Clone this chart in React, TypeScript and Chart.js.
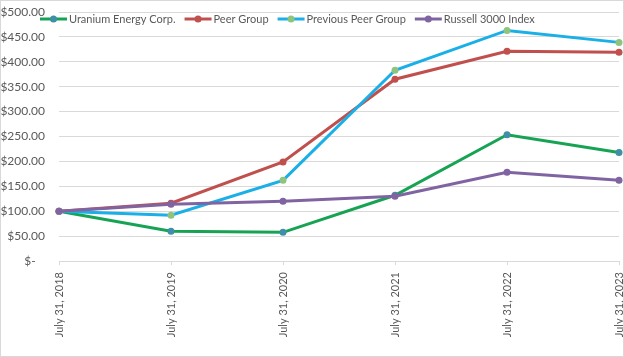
import React, { useEffect, useRef } from "react";
import { Chart, registerables } from "chart.js";

Chart.register(...registerables);

const categories = ["July 31, 2018", "July 31, 2019", "July 31, 2020", "July 31, 2021", "July 31, 2022", "July 31, 2023"];
const uecValues = [100, 59.6, 57.6, 132, 253.6, 218];
const peerValues = [100, 116, 199, 365, 421, 419];
const prevPeerValues = [100, 92, 162, 383, 463, 439];
const russellValues = [100, 114, 120, 130, 178, 162];
const seriesNames = ["Uranium Energy Corp.", "Peer Group", "Previous Peer Group", "Russell 3000 Index"];

const FONT = "Lato, 'Liberation Sans', sans-serif";
const TEXT = "#595959";
const GRID = "#D9D9D9";

const legendPlugin = {
  id: "customLegend",
  afterDraw(chart: any) {
    const ctx = chart.ctx as CanvasRenderingContext2D;
    ctx.save();
    ctx.font = `11px ${FONT}`;
    ctx.textBaseline = "middle";
    let x = 40;
    const y = 19;
    chart.data.datasets.forEach((ds: any) => {
      ctx.strokeStyle = ds.borderColor;
      ctx.lineWidth = 3;
      ctx.beginPath();
      ctx.moveTo(x, y);
      ctx.lineTo(x + 27, y);
      ctx.stroke();
      ctx.fillStyle = ds.pointBackgroundColor;
      ctx.beginPath();
      ctx.arc(x + 13.5, y, 3.5, 0, Math.PI * 2);
      ctx.fill();
      ctx.fillStyle = TEXT;
      ctx.textAlign = "left";
      ctx.fillText(ds.label, x + 29, y);
      x += 29 + ctx.measureText(ds.label).width + 9;
    });
    ctx.strokeStyle = GRID;
    ctx.lineWidth = 1;
    ctx.strokeRect(0.5, 0.5, chart.width - 1, chart.height - 1);
    ctx.restore();
  },
};

export default function App() {
  const ref = useRef<HTMLCanvasElement>(null);
  useEffect(() => {
    if (!ref.current) return;
    const mk = (label: string, data: number[], line: string, point: string, order: number) => ({
      label,
      data,
      borderColor: line,
      backgroundColor: line,
      pointBackgroundColor: point,
      pointBorderColor: point,
      pointRadius: 3.5,
      pointBorderWidth: 0,
      borderWidth: 3,
      tension: 0,
      order,
    });
    const chart = new Chart(ref.current, {
      type: "line",
      data: {
        labels: categories,
        datasets: [
          mk(seriesNames[0], uecValues, "#17A354", "#3F8FA6", 4),
          mk(seriesNames[1], peerValues, "#C0504D", "#C0504D", 3),
          mk(seriesNames[2], prevPeerValues, "#1AAFE6", "#8FC47E", 2),
          mk(seriesNames[3], russellValues, "#8064A2", "#8064A2", 1),
        ],
      },
      options: {
        animation: false,
        responsive: false,
        maintainAspectRatio: false,
        layout: { padding: { top: 12, right: 5, bottom: 0, left: 0 } },
        plugins: { legend: { display: false }, tooltip: { enabled: false } },
        scales: {
          x: {
            type: "category",
            offset: false,
            afterFit: (s: any) => { s.height = 96; s.paddingLeft = 0; s.paddingRight = 0; },
            grid: { drawOnChartArea: false, drawTicks: true, tickLength: 4, color: GRID },
            border: { color: GRID },
            ticks: {
              maxRotation: 90,
              minRotation: 90,
              autoSkip: false,
              padding: 7,
              color: TEXT,
              font: { family: FONT, size: 11 },
            },
          },
          y: {
            min: 0,
            max: 500,
            afterFit: (s: any) => { s.width = 59; s.paddingTop = 0; s.paddingBottom = 0; },
            grid: { color: GRID, drawTicks: false },
            border: { display: false },
            ticks: {
              stepSize: 50,
              padding: 14,
              color: TEXT,
              font: { family: FONT, size: 12 },
              callback: (v: any) => (Number(v) === 0 ? "$-   " : "$" + Number(v).toFixed(2)),
            },
          },
        },
      },
      plugins: [legendPlugin],
    });
    return () => chart.destroy();
  }, []);
  return (
    <div style={{ position: "absolute", left: 0, top: 0, width: 624, height: 357, background: "#fff" }}>
      <canvas ref={ref} width={624} height={357} style={{ width: 624, height: 357 }} />
    </div>
  );
}
